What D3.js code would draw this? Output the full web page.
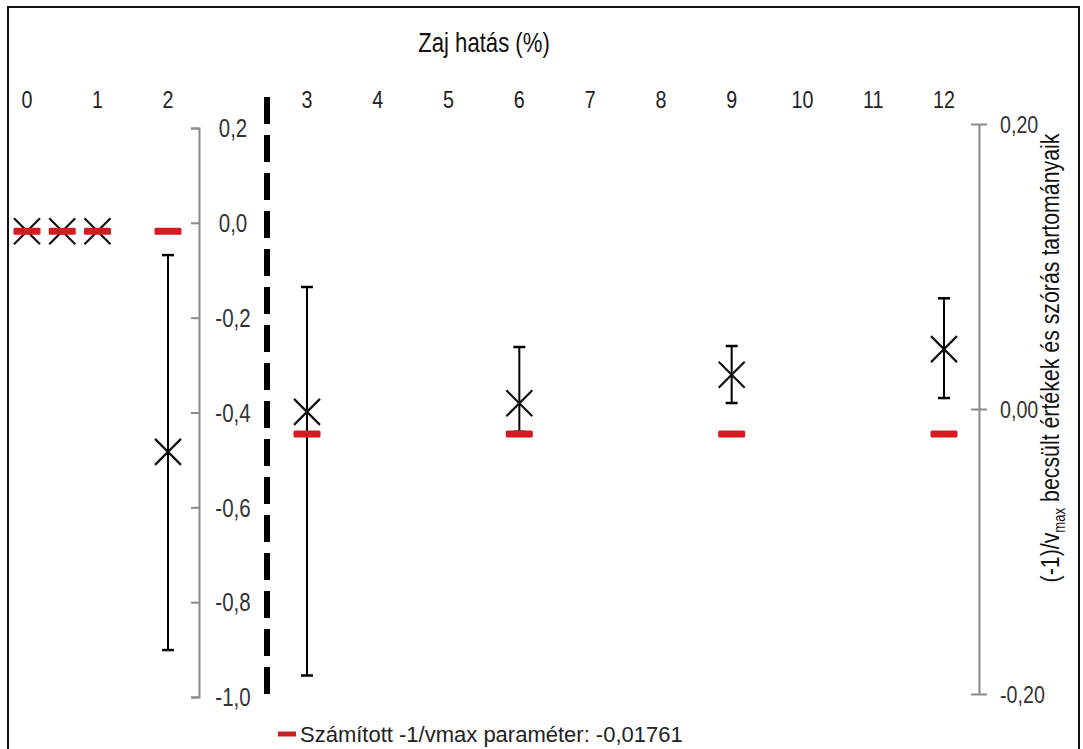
<!DOCTYPE html>
<html>
<head>
<meta charset="utf-8">
<script src="https://cdn.jsdelivr.net/npm/d3@7"></script>
<style>
  html, body { margin: 0; padding: 0; background: #fff; }
  svg { display: block; }
  text { font-family: "Liberation Sans", Arial, sans-serif; }
</style>
</head>
<body>
<svg id="chart" width="1083" height="749"></svg>
<script>
// ---------------- data ----------------
const xTitle = "Zaj hatás (%)";
const yTitleMain = "(-1)/v";
const yTitleSub = "max";
const yTitleRest = " becsült értékek és szórás tartományaik";
const legendLabel = "Számított -1/vmax paraméter: -0,01761";
const paramValue = -0.01761;

// left panel (noise 0–2), plotted on left axis
const leftCats  = [0, 0.5, 1, 2];
const leftMeans = [-0.0176, -0.0176, -0.0176, -0.483];
const leftLow   = [-0.0176, -0.0176, -0.0176, -0.901];
const leftHigh  = [-0.0176, -0.0176, -0.0176, -0.068];

// right panel (noise 3–12), plotted on right axis
const rightCats  = [3, 6, 9, 12];
const rightMeans = [-0.002, 0.004, 0.024, 0.042];
const rightLow   = [-0.187, -0.016, 0.0042, 0.0077];
const rightHigh  = [0.0856, 0.0435, 0.0442, 0.0777];

// top category labels and axis ticks
const leftTickLabels  = [0, 1, 2];
const rightTickLabels = [3, 4, 5, 6, 7, 8, 9, 10, 11, 12];
const leftAxisTicks  = [0.2, 0.0, -0.2, -0.4, -0.6, -0.8, -1.0];
const rightAxisTicks = [0.2, 0.0, -0.2];

// ---------------- scales ----------------
const svg = d3.select("#chart");
const xLeft  = d3.scaleLinear().domain([0, 2]).range([27, 168]);
const xRight = d3.scaleLinear().domain([3, 12]).range([307, 944]);
const yLeft  = d3.scaleLinear().domain([-1, 0.2]).range([697, 128]);
const yRight = d3.scaleLinear().domain([-0.2, 0.2]).range([694, 124]);

const fmt1 = v => d3.format(".1f")(v).replace(".", ",").replace("−", "-");
const fmt2 = v => d3.format(".2f")(v).replace(".", ",").replace("−", "-");
const SX = 0.82; // condensed look (Arial Narrow)

// frame
svg.append("rect").attr("x", 8).attr("y", 7).attr("width", 1071).attr("height", 760)
  .attr("fill", "none").attr("stroke", "#111").attr("stroke-width", 2);

// title
svg.append("text").attr("transform", `translate(484,52) scale(${SX},1)`)
  .attr("text-anchor", "middle").attr("font-size", 27).attr("fill", "#111").text(xTitle);

// category labels
const catG = svg.append("g").attr("font-size", 24).attr("fill", "#222");
catG.selectAll("text.l").data(leftTickLabels).join("text").attr("class", "l")
  .attr("transform", d => `translate(${xLeft(d)},108) scale(${SX},1)`)
  .attr("text-anchor", "middle").text(d => d);
catG.selectAll("text.r").data(rightTickLabels).join("text").attr("class", "r")
  .attr("transform", d => `translate(${xRight(d)},108) scale(${SX},1)`)
  .attr("text-anchor", "middle").text(d => d);

// left axis
const gL = svg.append("g").attr("transform", "translate(199,0)")
  .call(d3.axisLeft(yLeft).tickValues(leftAxisTicks).tickSize(8).tickSizeOuter(8).tickFormat(fmt1));
gL.select(".domain").attr("stroke", "#8a8a8a").attr("stroke-width", 2);
gL.selectAll(".tick line").attr("stroke", "#8a8a8a").attr("stroke-width", 2);
gL.selectAll(".tick text").attr("x", 0).attr("dy", "0.35em")
  .attr("transform", `translate(34,0) scale(${SX},1)`).attr("text-anchor", "middle")
  .attr("font-size", 25).attr("font-family", "Liberation Sans, Arial, sans-serif").attr("fill", "#333");

// dashed separator
svg.append("line").attr("x1", 267).attr("x2", 267).attr("y1", yLeft(0.2) - 31).attr("y2", yLeft(-1) + 5)
  .attr("stroke", "#000").attr("stroke-width", 6).attr("stroke-dasharray", "27,11");

// right axis
const gR = svg.append("g").attr("transform", "translate(979,0)")
  .call(d3.axisRight(yRight).tickValues(rightAxisTicks).tickSize(8).tickSizeOuter(0).tickFormat(fmt2));
gR.select(".domain").attr("stroke", "#8a8a8a").attr("stroke-width", 2);
gR.selectAll(".tick line").attr("x1", -8).attr("stroke", "#8a8a8a").attr("stroke-width", 2);
gR.selectAll(".tick text").attr("x", 0).attr("dy", "0.35em")
  .attr("transform", `translate(21,0) scale(${SX},1)`).attr("text-anchor", "start")
  .attr("font-size", 24).attr("font-family", "Liberation Sans, Arial, sans-serif").attr("fill", "#333");

// right axis title
const yt = svg.append("text").attr("font-size", 26).attr("fill", "#111")
  .attr("transform", `translate(1059,358) rotate(-90) scale(${SX},1)`).attr("text-anchor", "middle");
yt.append("tspan").text(yTitleMain);
yt.append("tspan").attr("font-size", 16).attr("dy", 6).text(yTitleSub);
yt.append("tspan").attr("dy", -6).text(yTitleRest);

// ---------------- marks ----------------
function drawSeries(cats, means, lows, highs, xs, ys) {
  const g = svg.append("g");
  const pts = cats.map((c, i) => ({ c, m: means[i], lo: lows[i], hi: highs[i] }));
  const eb = pts.filter(d => d.hi !== d.lo);
  g.selectAll("line.eb").data(eb).join("line").attr("class", "eb")
    .attr("x1", d => xs(d.c)).attr("x2", d => xs(d.c))
    .attr("y1", d => ys(d.hi)).attr("y2", d => ys(d.lo))
    .attr("stroke", "#000").attr("stroke-width", 2);
  ["hi", "lo"].forEach(k => {
    g.selectAll("line.cap" + k).data(eb).join("line").attr("class", "cap" + k)
      .attr("x1", d => xs(d.c) - 6).attr("x2", d => xs(d.c) + 6)
      .attr("y1", d => ys(d[k])).attr("y2", d => ys(d[k]))
      .attr("stroke", "#000").attr("stroke-width", 2.5);
  });
  const s = 13;
  g.selectAll("path.x").data(pts).join("path").attr("class", "x")
    .attr("d", d => {
      const x = xs(d.c), y = ys(d.m);
      return `M${x - s},${y - s}L${x + s},${y + s}M${x - s},${y + s}L${x + s},${y - s}`;
    })
    .attr("stroke", "#111").attr("stroke-width", 2.2).attr("fill", "none");
  g.selectAll("rect.p").data(cats).join("rect").attr("class", "p")
    .attr("x", c => xs(c) - 13.5).attr("y", ys(paramValue) - 3.5)
    .attr("width", 27).attr("height", 7).attr("rx", 1.5)
    .attr("fill", "#d51a21");
}
drawSeries(leftCats, leftMeans, leftLow, leftHigh, xLeft, yLeft);
drawSeries(rightCats, rightMeans, rightLow, rightHigh, xRight, yRight);

// legend
svg.append("rect").attr("x", 278).attr("y", 731.5).attr("width", 18).attr("height", 5).attr("fill", "#c9202a");
svg.append("text").attr("transform", `translate(300,742)`)
  .attr("font-size", 22).attr("fill", "#222")
  .text(legendLabel);
</script>
</body>
</html>
